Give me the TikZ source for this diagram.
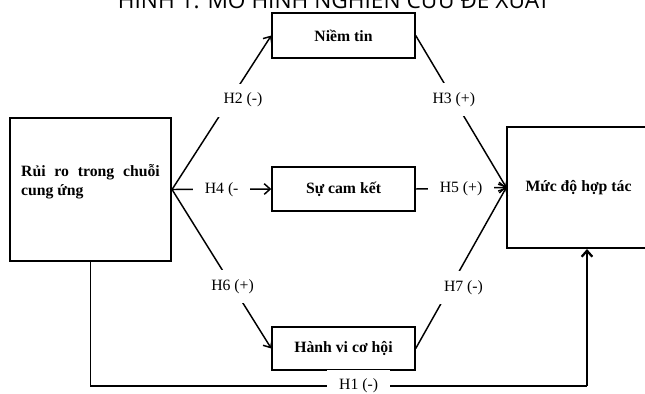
\documentclass[tikz,border=0pt]{standalone}
\usepackage{amsmath,amssymb}
\usepackage{fontspec}
\setmainfont{Liberation Serif}
\newfontfamily\titlefont{Open Sans}
\usepackage{tikz}
\usetikzlibrary{arrows.meta}

\begin{document}
\begin{tikzpicture}[x=0.75pt,y=0.75pt,yscale=-1,xscale=1,>={Straight Barb[length=4.5pt,width=8pt]},
		hopbox/.style={draw,line width=1.3pt,minimum width=107pt,inner sep=0pt,font=\fontsize{11.8}{14}\selectfont\bfseries},
		conn/.style={line width=1.1pt},
		lbl/.style={fill=white,inner xsep=9pt,inner ysep=7pt,font=\fontsize{11.8}{14}\selectfont}]
		
		\useasboundingbox (0,0) rectangle (645,393);
		\clip (0,0) rectangle (645,393);
		
		% Text Node
		\node (title) [anchor=base,font=\titlefont\fontsize{17}{19}\selectfont] at (334,8) {HÌNH 1: MÔ HÌNH NGHIÊN CỨU ĐỀ XUẤT};
		
		%Shape: Rectangle [Rủi ro]
		\node (rr) [hopbox,minimum width=121pt,minimum height=107pt] at (90.5,189.5) {};
		\node (rrtxt) [anchor=center,align=justify,text width=104pt,font=\fontsize{11.8}{14}\selectfont\bfseries] at (90.5,182) {Rủi ro trong chuỗi cung ứng};
		%Shape: Rectangle [Niềm tin]
		\node (nt) [hopbox,minimum height=34pt] at (343.5,35.5) {Niềm tin};
		%Shape: Rectangle [Sự cam kết]
		\node (ck) [hopbox,minimum height=33pt] at (343.5,189) {Sự cam kết};
		%Shape: Rectangle [Hành vi cơ hội]
		\node (hv) [hopbox,minimum height=32pt] at (343.5,348.5) {Hành vi cơ hội};
		%Shape: Rectangle [Mức độ hợp tác]
		\node (md) [hopbox,minimum height=91pt] at (578.5,187.5) {Mức độ hợp tác};
		
		%Straight Lines [H2, H3]
		\draw [conn,->] (rr.east) -- node [lbl,pos=0.58,xshift=10pt] {H2 (-)} (nt.west);
		\draw [conn,->] (nt.east) -- node [lbl,pos=0.42] {H3 (+)} (md.west);
		%Straight Lines [H4, H5]
		\draw [conn,->] (rr.east) -- node [lbl,pos=0.5] {H4 (-} (ck.west);
		\draw [conn,->] (ck.east) -- node [lbl,pos=0.5] {H5 (+)} (md.west);
		%Straight Lines [H6, H7]
		\draw [conn,->] (rr.east) -- node [lbl,pos=0.61] {H6 (+)} (hv.west);
		\draw [conn,->] (hv.east) -- node [lbl,pos=0.38,xshift=10pt] {H7 (-)} (md.west);
		
		%Straight Lines [H1]
		\coordinate (h1) at (587,386);
		\draw [conn] (rr.south) |- node [lbl,pos=0.77] {H1 (-)} (h1);
		\draw [conn,->,line width=1.7pt] (h1) -- (h1 |- md.south);
		
\end{tikzpicture}
\end{document}
